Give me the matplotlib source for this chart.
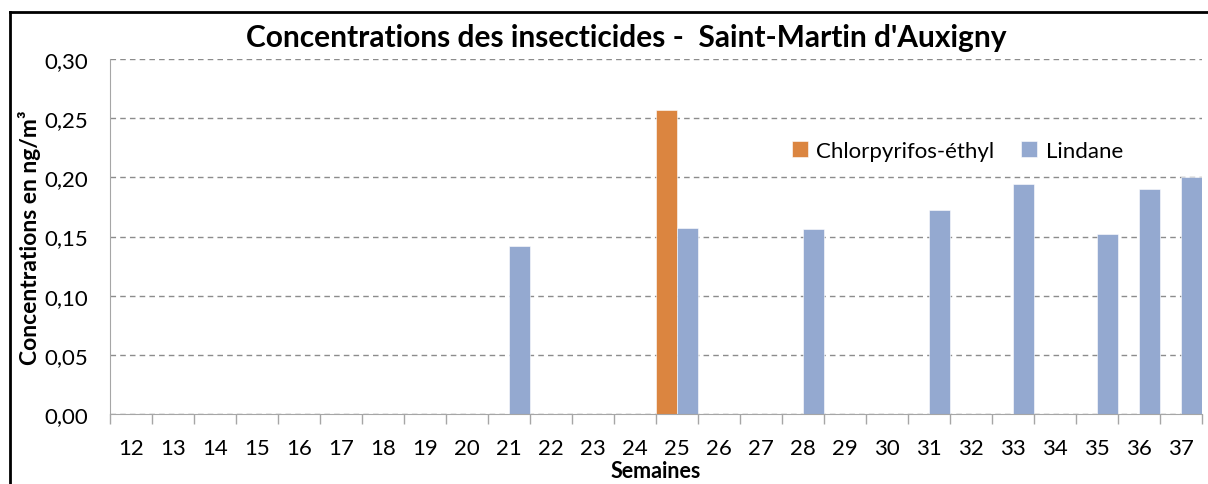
import matplotlib
matplotlib.use("Agg")
import matplotlib.pyplot as plt
import numpy as np
from matplotlib.lines import Line2D

plt.rcParams["font.family"] = ["Lato", "DejaVu Sans"]

# Data
weeks = [str(w) for w in range(12, 38)]
chlorpyrifos = {"25": 0.257}
lindane = {
    "21": 0.142,
    "25": 0.157,
    "28": 0.156,
    "31": 0.172,
    "33": 0.194,
    "35": 0.152,
    "36": 0.190,
    "37": 0.200,
}
yticks = [0.00, 0.05, 0.10, 0.15, 0.20, 0.25, 0.30]

orange = "#DB8540"
blue = "#94A9D0"
FS = 16

W, H = 1208, 485
fig = plt.figure(figsize=(W / 100, H / 100), dpi=100)
ax = fig.add_axes([110 / W, 1 - 415 / H, (1202 - 110) / W, (415 - 60) / H])

x = np.arange(len(weeks))
ch_vals = [chlorpyrifos.get(w, 0) for w in weeks]
li_vals = [lindane.get(w, 0) for w in weeks]

ax.bar(x - 0.25, ch_vals, width=0.5, color=orange, edgecolor="white",
       linewidth=0.4, label="Chlorpyrifos-éthyl", zorder=3)
ax.bar(x + 0.25, li_vals, width=0.5, color=blue, edgecolor="white",
       linewidth=0.4, label="Lindane", zorder=3)

ax.set_xlim(-0.5, len(weeks) - 0.5)
ax.set_ylim(0, 0.30)
ax.set_yticks(yticks)
ax.set_yticklabels([f"{v:.2f}".replace(".", ",") for v in yticks], fontsize=FS)
ax.tick_params(axis="y", length=0, pad=16)

# category labels centred, tick marks on boundaries
ax.set_xticks(x)
ax.set_xticklabels(weeks, fontsize=FS)
ax.tick_params(axis="x", which="major", length=0, pad=17)
ax.set_xticks(np.arange(-0.5, len(weeks)), minor=True)
ax.tick_params(axis="x", which="minor", length=7, color="#A6A6A6", width=1)

ax.grid(axis="y", linestyle=(0, (4, 3)), color="#8C8C8C", linewidth=1, zorder=0)
for s in ["top", "right"]:
    ax.spines[s].set_visible(False)
ax.spines["left"].set_color("#A6A6A6")
ax.spines["bottom"].set_color("#A6A6A6")
ax.spines["bottom"].set_zorder(4)

ax.set_ylabel("Concentrations en ng/m³", fontsize=16.5, fontweight="bold", labelpad=2)
ax.set_xlabel("Semaines", fontsize=15.5, fontweight="bold", labelpad=2)

fig.text(0.5 * (250 + 1003) / W, 1 - 38 / H,
         "Concentrations des insecticides -  Saint-Martin d'Auxigny",
         ha="center", va="center", fontsize=21.5, fontweight="bold")

ax.legend(loc="center left", bbox_to_anchor=((772 - 110) / (1202 - 110), (415 - 152) / (415 - 60)),
          ncol=2, frameon=False, fontsize=FS, handlelength=0.7, handleheight=0.7,
          handletextpad=0.4, columnspacing=1.2)

# outer chart frame (top and left edges visible)
fig.add_artist(Line2D([10 / W, 10 / W], [0, 1 - 13 / H], transform=fig.transFigure,
                      color="black", linewidth=2))
fig.add_artist(Line2D([10 / W, 1], [1 - 13 / H, 1 - 13 / H], transform=fig.transFigure,
                      color="black", linewidth=2))

fig.savefig("out.png", dpi=100)
